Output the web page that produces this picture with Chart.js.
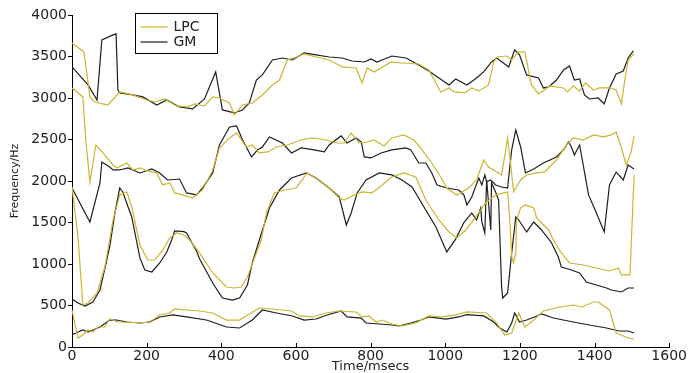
<!DOCTYPE html>
<html>
<head>
<meta charset="utf-8">
<script src="https://cdn.jsdelivr.net/npm/chart.js@4.4.0/dist/chart.umd.min.js"></script>
<style>
html, body { margin: 0; padding: 0; background: #fff; }
#formants { display: block; }
</style>
</head>
<body>
<canvas id="formants" width="688" height="373"></canvas>
<script>
// formant tracks as [time ms, frequency Hz]
const lpcF4 = [[0,3663],[32,3555],[48,3013],[61,2952],[96,2916],[128,3073],[163,3037],[200,2976],[222,2952],[248,2988],[280,2904],[307,2892],[329,2928],[355,2904],[377,3013],[395,3000],[422,2940],[435,2796],[457,2916],[483,2940],[510,3037],[537,3157],[556,3217],[577,3458],[601,3494],[622,3531],[654,3494],[689,3458],[724,3374],[761,3362],[777,3181],[791,3362],[809,3314],[855,3434],[884,3422],[929,3410],[956,3338],[988,3073],[1010,3121],[1023,3073],[1052,3061],[1071,3121],[1090,3085],[1116,3157],[1130,3434],[1138,3494],[1165,3506],[1178,3458],[1197,3555],[1213,3555],[1231,3157],[1250,3049],[1266,3097],[1279,3145],[1317,3121],[1327,3073],[1343,3145],[1360,3085],[1376,3181],[1397,3097],[1413,3121],[1440,3121],[1458,3097],[1472,2928],[1480,3181],[1490,3458],[1506,3531]];
const lpcF3 = [[0,3121],[29,3013],[37,2494],[48,1988],[64,2434],[83,2338],[110,2193],[120,2157],[136,2193],[147,2217],[163,2133],[182,2157],[203,2121],[227,2097],[243,1952],[262,1976],[275,1856],[296,1832],[323,1795],[350,1892],[377,2133],[395,2398],[422,2520],[441,2579],[467,2410],[483,2434],[502,2338],[524,2350],[548,2410],[577,2434],[614,2494],[644,2519],[681,2494],[708,2458],[729,2458],[748,2579],[769,2458],[791,2470],[809,2494],[836,2422],[857,2519],[889,2555],[916,2494],[938,2374],[964,2217],[988,2049],[1004,1916],[1031,1832],[1063,1916],[1084,2012],[1103,2253],[1116,2169],[1151,2073],[1162,2374],[1167,2519],[1175,2217],[1183,1868],[1202,2012],[1218,2073],[1245,2097],[1266,2109],[1298,2253],[1325,2434],[1343,2519],[1370,2494],[1397,2555],[1424,2531],[1445,2555],[1458,2591],[1472,2398],[1485,2193],[1498,2350],[1506,2543]];
const lpcF2 = [[0,1930],[16,1325],[29,506],[43,530],[67,651],[88,964],[110,1530],[128,1832],[147,1868],[160,1687],[182,1229],[203,1048],[222,1048],[243,1169],[262,1313],[280,1374],[300,1350],[315,1289],[342,1133],[377,892],[414,723],[435,711],[454,723],[470,843],[494,1133],[507,1289],[521,1615],[542,1856],[569,1892],[601,1916],[630,2097],[662,2012],[689,1916],[716,1795],[729,1771],[756,1832],[777,1868],[804,1856],[831,1952],[857,2049],[889,2097],[921,2049],[948,1771],[983,1530],[1010,1386],[1031,1313],[1055,1410],[1082,1567],[1108,1735],[1135,1832],[1157,1856],[1167,1868],[1173,1530],[1178,1085],[1183,1012],[1189,1133],[1191,1530],[1202,1675],[1215,1711],[1237,1675],[1245,1554],[1277,1410],[1290,1289],[1311,1133],[1333,1012],[1370,988],[1405,952],[1440,916],[1464,952],[1472,868],[1495,870],[1506,2073]];
const lpcF1 = [[0,446],[16,108],[29,145],[43,205],[56,181],[69,241],[88,241],[101,337],[123,301],[163,295],[200,295],[216,325],[235,386],[262,410],[275,458],[342,434],[377,410],[414,325],[449,325],[457,349],[502,470],[537,458],[588,434],[609,374],[644,362],[681,410],[716,434],[761,422],[777,362],[796,374],[815,301],[831,325],[857,277],[884,253],[921,289],[956,374],[991,362],[1028,386],[1058,422],[1111,410],[1138,289],[1159,145],[1178,169],[1197,410],[1213,241],[1237,325],[1263,434],[1306,482],[1343,506],[1365,482],[1397,542],[1410,542],[1440,446],[1458,169],[1490,108],[1506,96]];

const gmF4 = [[0,3374],[43,3157],[67,2976],[80,3700],[110,3760],[118,3772],[123,3097],[128,3061],[163,3037],[190,3013],[227,2916],[254,2976],[288,2892],[323,2868],[355,2988],[385,3314],[403,2856],[435,2820],[457,2856],[475,2940],[494,3217],[510,3278],[537,3458],[564,3482],[590,3458],[622,3543],[654,3519],[689,3494],[724,3482],[750,3446],[783,3434],[801,3470],[817,3434],[857,3506],[895,3482],[929,3398],[956,3326],[983,3241],[1010,3157],[1028,3229],[1058,3157],[1084,3241],[1103,3314],[1124,3434],[1138,3482],[1170,3374],[1186,3579],[1199,3519],[1218,3278],[1250,3241],[1263,3121],[1277,3133],[1298,3217],[1317,3338],[1333,3386],[1346,3217],[1360,3229],[1373,3037],[1386,2988],[1410,3000],[1426,2928],[1440,3121],[1458,3290],[1477,3326],[1490,3482],[1504,3567]];
const gmF3 = [[0,1916],[48,1506],[75,1976],[80,2229],[101,2169],[110,2133],[128,2133],[150,2157],[182,2097],[214,2145],[235,2097],[256,2012],[288,2024],[307,1856],[334,1832],[350,1916],[377,2097],[395,2434],[422,2651],[441,2663],[457,2494],[481,2290],[497,2374],[510,2410],[529,2531],[564,2458],[588,2338],[614,2398],[649,2374],[676,2350],[689,2434],[721,2543],[737,2458],[761,2519],[775,2470],[783,2290],[801,2278],[828,2338],[857,2374],[895,2398],[908,2374],[929,2217],[948,2217],[964,2097],[978,1952],[1004,1916],[1036,1892],[1050,1832],[1058,1711],[1071,1808],[1090,2036],[1098,1952],[1106,2073],[1111,1988],[1122,2012],[1135,1952],[1151,1928],[1167,1916],[1178,2374],[1189,2615],[1202,2410],[1215,2097],[1237,2145],[1263,2217],[1298,2290],[1319,2386],[1330,2470],[1338,2410],[1346,2314],[1360,2434],[1384,1832],[1405,1615],[1426,1386],[1440,1952],[1458,2109],[1477,2012],[1490,2193],[1506,2145]];
const gmF2 = [[0,578],[16,530],[35,494],[56,542],[75,687],[101,1205],[115,1615],[128,1916],[136,1868],[160,1567],[182,1073],[195,928],[214,904],[235,1012],[254,1145],[267,1289],[275,1400],[300,1390],[307,1374],[334,1150],[342,1060],[377,771],[403,590],[430,566],[449,590],[470,747],[483,1012],[502,1289],[529,1675],[556,1892],[588,2036],[628,2097],[654,2036],[689,1916],[716,1808],[735,1470],[748,1615],[764,1856],[788,2012],[823,2097],[857,2073],[884,2012],[911,1928],[943,1687],[975,1446],[1004,1145],[1028,1300],[1050,1500],[1071,1615],[1084,1530],[1095,1675],[1098,1506],[1106,1374],[1111,2012],[1116,1735],[1122,1410],[1124,1976],[1135,1868],[1143,1771],[1151,723],[1154,590],[1167,651],[1178,1133],[1189,1567],[1197,1530],[1218,1386],[1237,1506],[1258,1410],[1285,1253],[1303,1085],[1311,964],[1338,928],[1360,892],[1378,783],[1405,747],[1432,711],[1445,687],[1472,663],[1490,711],[1506,711]];
const gmF1 = [[0,145],[16,181],[29,205],[43,181],[56,205],[75,241],[101,325],[120,325],[147,301],[182,289],[208,301],[235,362],[270,386],[307,362],[360,325],[414,241],[449,229],[483,325],[510,446],[548,410],[590,374],[622,325],[654,337],[684,386],[721,434],[737,362],[775,349],[788,289],[823,277],[857,265],[876,253],[908,289],[935,325],[956,362],[1002,337],[1036,362],[1058,390],[1103,374],[1130,301],[1146,229],[1165,181],[1178,289],[1186,410],[1199,301],[1218,325],[1239,362],[1258,398],[1290,349],[1343,301],[1386,265],[1432,229],[1466,193],[1490,193],[1506,169]];

const xTicks = [0, 200, 400, 600, 800, 1000, 1200, 1400, 1600];
const yTicks = [0, 500, 1000, 1500, 2000, 2500, 3000, 3500, 4000];

const LPC_COLOR = '#cbb62e';
const GM_COLOR = '#1e1e1e';
const FONT = 'DejaVu Sans';

function track(label, pts, color) {
    return {
        label: label,
        data: pts.map(p => ({ x: p[0], y: p[1] })),
        borderColor: color,
        borderWidth: 1.2,
        pointRadius: 0,
        fill: false,
        tension: 0
    };
}

// boxed legend inside the plot, one entry per label
const boxLegend = {
    id: 'boxLegend',
    afterDraw(chart) {
        const ctx = chart.ctx;
        const x = chart.chartArea.left + 63.5, y = chart.chartArea.top - 1.5;
        const entries = [];
        chart.data.datasets.forEach(d => {
            if (!entries.find(e => e.label === d.label)) entries.push(d);
        });
        ctx.save();
        ctx.fillStyle = '#fff';
        ctx.fillRect(x, y, 82, 40);
        ctx.strokeStyle = '#000';
        ctx.lineWidth = 1;
        ctx.strokeRect(x, y, 82, 40);
        ctx.font = '14px "' + FONT + '"';
        ctx.textBaseline = 'middle';
        entries.forEach((d, i) => {
            const ly = y + 13.5 + i * 15;
            ctx.strokeStyle = d.borderColor;
            ctx.lineWidth = 1.2;
            ctx.beginPath();
            ctx.moveTo(x + 5, ly);
            ctx.lineTo(x + 32, ly);
            ctx.stroke();
            ctx.fillStyle = '#222';
            ctx.fillText(d.label, x + 38, ly + 0.5);
        });
        ctx.restore();
    }
};

// small tick marks pointing up into the plot on the time axis
const innerTicks = {
    id: 'innerTicks',
    afterDraw(chart) {
        const sx = chart.scales.x, ctx = chart.ctx, b = chart.chartArea.bottom;
        ctx.save();
        ctx.strokeStyle = '#000';
        ctx.lineWidth = 1;
        sx.ticks.forEach(t => {
            const px = Math.round(sx.getPixelForValue(t.value)) + 0.5;
            ctx.beginPath();
            ctx.moveTo(px, b);
            ctx.lineTo(px, b - 4);
            ctx.stroke();
        });
        ctx.restore();
    }
};

new Chart(document.getElementById('formants'), {
    type: 'line',
    data: {
        datasets: [
            track('LPC', lpcF4, LPC_COLOR),
            track('LPC', lpcF3, LPC_COLOR),
            track('LPC', lpcF2, LPC_COLOR),
            track('LPC', lpcF1, LPC_COLOR),
            track('GM', gmF4, GM_COLOR),
            track('GM', gmF3, GM_COLOR),
            track('GM', gmF2, GM_COLOR),
            track('GM', gmF1, GM_COLOR)
        ]
    },
    options: {
        responsive: false,
        animation: false,
        layout: { padding: { top: 15, right: 17, bottom: 0, left: 0 } },
        plugins: {
            legend: { display: false },
            tooltip: { enabled: false }
        },
        scales: {
            x: {
                type: 'linear',
                min: 0,
                max: 1600,
                afterBuildTicks: s => { s.ticks = xTicks.map(v => ({ value: v })); },
                afterFit: s => { s.height = 26; },
                grid: { drawOnChartArea: false, drawTicks: false },
                border: { color: '#000', width: 1 },
                ticks: { font: { family: FONT, size: 14 }, color: '#222', padding: 1, maxRotation: 0, autoSkip: false, callback: v => String(v) },
                title: { display: true, text: 'Time/msecs', font: { family: FONT, size: 13 }, color: '#222', padding: { top: 0, bottom: -1 } }
            },
            y: {
                type: 'linear',
                min: 0,
                max: 4000,
                afterBuildTicks: s => { s.ticks = yTicks.map(v => ({ value: v })); },
                afterFit: s => { s.width = 72; },
                grid: { drawOnChartArea: false, tickLength: 4, color: '#000' },
                border: { color: '#000', width: 1 },
                ticks: { font: { family: FONT, size: 14 }, color: '#222', padding: 1, callback: v => String(v) },
                title: { display: true, text: 'Frequency/Hz', font: { family: FONT, size: 11 }, color: '#222', padding: { top: 9, bottom: 0 } }
            }
        }
    },
    plugins: [boxLegend, innerTicks]
});
</script>
</body>
</html>
